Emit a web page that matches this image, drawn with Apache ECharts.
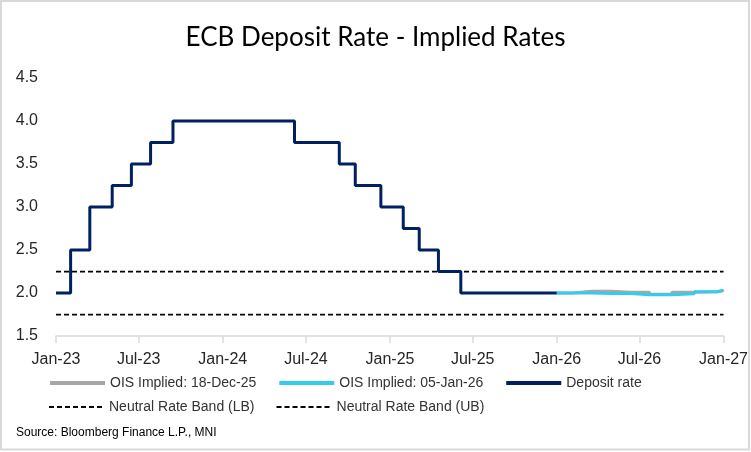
<!DOCTYPE html>
<html>
<head>
<meta charset="utf-8">
<script src="https://cdn.jsdelivr.net/npm/echarts@6/dist/echarts.min.js"></script>
<style>
html,body{margin:0;padding:0;background:#fff;}
#chart{width:751px;height:452px;}
</style>
</head>
<body>
<div id="chart"></div>
<script>
// ---- Data ----
const depositDates = ['2023-01-01','2023-02-02','2023-03-16','2023-05-04','2023-06-15','2023-07-27','2023-09-14','2024-06-06','2024-09-12','2024-10-17','2024-12-12','2025-01-30','2025-03-06','2025-04-17','2025-06-05','2026-01-01'];
const depositRates = [2.00,2.50,3.00,3.25,3.50,3.75,4.00,3.75,3.50,3.25,3.00,2.75,2.50,2.25,2.00,2.00];

const oisDates = ['2026-01-01','2026-02-05','2026-03-19','2026-04-30','2026-06-11','2026-07-23','2026-09-10','2026-10-29','2026-12-17','2027-01-01'];
const ois18Dec = [2.00,2.02,2.02,2.01,2.01,1.985,2.01,2.015,2.03,2.03];
const ois05Jan = [2.00,2.00,1.995,1.995,1.98,1.98,1.99,2.015,2.03,2.03];

const bandDates = ['2023-01-01','2027-01-01'];
const neutralLB = [1.75,1.75];
const neutralUB = [2.25,2.25];

const yTicks = {min:1.5, max:4.5, interval:0.5};
const monthNames = ['Jan','Feb','Mar','Apr','May','Jun','Jul','Aug','Sep','Oct','Nov','Dec'];

function zip(d, v){ return d.map((x,i)=>[x, v[i]]); }

const chart = echarts.init(document.getElementById('chart'), null, {renderer:'canvas'});
const dash = [5,3];
const legendCommon = {
  orient:'horizontal', itemWidth:55, itemHeight:14, itemGap:21, padding:0,
  itemStyle:{color:'rgba(0,0,0,0)', borderWidth:0, opacity:0},
  textStyle:{fontFamily:'Liberation Sans, Arial, sans-serif', fontSize:14, color:'#333'}
};
const option = {
  animation:false,
  backgroundColor:'#fff',
  title:{
    text:'ECB Deposit Rate - Implied Rates',
    left:'center', top:20,
    textStyle:{fontFamily:'Lato, Carlito, sans-serif', fontSize:26, fontWeight:'normal', color:'#000'}
  },
  grid:{left:56, right:25.4, top:78, bottom:116, containLabel:false},
  xAxis:{
    type:'time',
    min:'2023-01-01', max:'2027-01-01',
    splitNumber:8,
    minInterval:180*86400000, maxInterval:185*86400000,
    axisLine:{show:true, lineStyle:{color:'#D9D9D9', width:1.5}},
    axisTick:{show:true, length:7, lineStyle:{color:'#D9D9D9', width:1.5}},
    splitLine:{show:false},
    axisLabel:{
      margin:16, fontFamily:'Liberation Sans, Arial, sans-serif', fontSize:16, color:'#262626',
      showMinLabel:true, showMaxLabel:true, hideOverlap:false,
      formatter:function(v){ const d=new Date(v); return monthNames[d.getMonth()]+'-'+String(d.getFullYear()).slice(2); }
    }
  },
  yAxis:{
    type:'value', min:yTicks.min, max:yTicks.max, interval:yTicks.interval,
    axisLine:{show:false}, axisTick:{show:false}, splitLine:{show:false},
    axisLabel:{margin:18, fontFamily:'Liberation Sans, Arial, sans-serif', fontSize:16, color:'#262626',
      formatter:function(v){ return v.toFixed(1); }}
  },
  legend:[
    Object.assign({data:['OIS Implied: 18-Dec-25','OIS Implied: 05-Jan-26','Deposit rate'], left:48, top:376, lineStyle:{width:4}}, legendCommon),
    Object.assign({data:['Neutral Rate Band (LB)','Neutral Rate Band (UB)'], left:48, top:400, lineStyle:{width:2}}, legendCommon)
  ],
  series:[
    {name:'Neutral Rate Band (LB)', type:'line', data:zip(bandDates, neutralLB), symbol:'none',
      lineStyle:{color:'#000', width:1.75, type:dash}, itemStyle:{color:'#000'}},
    {name:'Neutral Rate Band (UB)', type:'line', data:zip(bandDates, neutralUB), symbol:'none',
      lineStyle:{color:'#000', width:1.75, type:dash}, itemStyle:{color:'#000'}},
    {name:'OIS Implied: 18-Dec-25', type:'line', step:'end', data:zip(oisDates, ois18Dec), symbol:'none',
      lineStyle:{color:'#A6A6A6', width:3}, itemStyle:{color:'#A6A6A6'}},
    {name:'OIS Implied: 05-Jan-26', type:'line', step:'end', data:zip(oisDates, ois05Jan), symbol:'none',
      lineStyle:{color:'#33CCEE', width:3}, itemStyle:{color:'#33CCEE'}},
    {name:'Deposit rate', type:'line', step:'end', data:zip(depositDates, depositRates), symbol:'none',
      lineStyle:{color:'#002060', width:3}, itemStyle:{color:'#002060'}}
  ],
  graphic:[
    {type:'text', left:16, top:427, style:{text:'Source: Bloomberg Finance L.P., MNI', fontFamily:'Liberation Sans, Arial, sans-serif', fontSize:12, fill:'#000'}},
    {type:'rect', z:100, silent:true, shape:{x:1, y:1, width:748, height:448.5}, style:{fill:'none', stroke:'#D9D9D9', lineWidth:2}}
  ]
};
chart.setOption(option);
</script>
</body>
</html>
